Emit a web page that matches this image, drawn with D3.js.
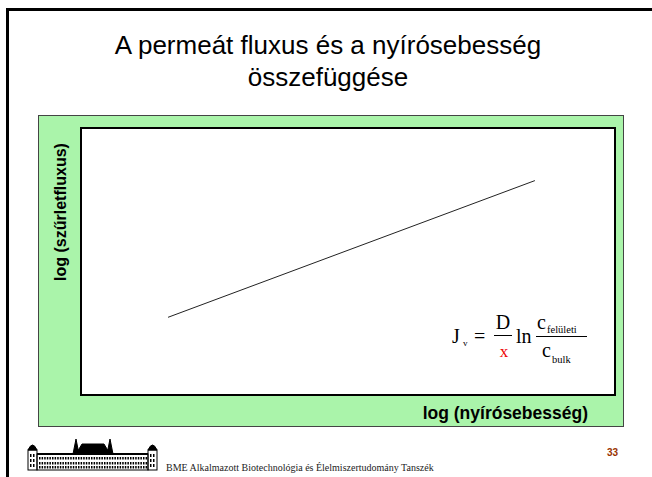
<!DOCTYPE html>
<html>
<head>
<meta charset="utf-8">
<script src="https://cdn.jsdelivr.net/npm/d3@7"></script>
<style>
  html, body { margin: 0; padding: 0; background: #fff; }
  svg { display: block; }
</style>
</head>
<body>
<svg id="slide" width="652" height="477"></svg>
<script>
// Schematic: log permeate flux vs log shear rate (straight line on log-log axes)
const titleLines = ["A permeát fluxus és a nyírósebesség", "összefüggése"];
const xAxisLabel = "log (nyírósebesség)";
const yAxisLabel = "log (szűrletfluxus)";
const logShear = [1.63, 8.5];   // log of shear rate, arbitrary units
const logFlux = [2.91, 8.03];   // log of permeate flux, arbitrary units
const xDomain = [0, 10];
const yDomain = [0, 10];
const footerText = "BME Alkalmazott Biotechnológia és Élelmiszertudomány Tanszék";
const pageNumber = "33";

const svg = d3.select("#slide");

// slide frame
svg.append("path")
  .attr("d", "M7.5,477 L7.5,9.5 L652,9.5")
  .attr("fill", "none").attr("stroke", "#000").attr("stroke-width", 3);

// title
const title = svg.append("text")
  .attr("text-anchor", "middle")
  .attr("font-family", "Liberation Sans, Arial, sans-serif")
  .attr("font-size", 26).attr("fill", "#000");
titleLines.forEach((t, i) => {
  title.append("tspan").attr("x", 328).attr("y", 54 + i * 32).text(t);
});

// green chart background
svg.append("rect")
  .attr("x", 38.5).attr("y", 115.5).attr("width", 585).attr("height", 311)
  .attr("fill", "#aaf4aa").attr("stroke", "#444").attr("stroke-width", 1);

// plot area
const plot = { left: 81, top: 128, right: 615, bottom: 395 };
svg.append("rect")
  .attr("x", plot.left).attr("y", plot.top)
  .attr("width", plot.right - plot.left).attr("height", plot.bottom - plot.top)
  .attr("fill", "#fff").attr("stroke", "#000").attr("stroke-width", 2);

const x = d3.scaleLinear().domain(xDomain).range([plot.left, plot.right]);
const y = d3.scaleLinear().domain(yDomain).range([plot.bottom, plot.top]);

const pts = logShear.map((v, i) => [v, logFlux[i]]);
svg.append("path")
  .datum(pts)
  .attr("d", d3.line().x(d => x(d[0])).y(d => y(d[1])))
  .attr("fill", "none").attr("stroke", "#222").attr("stroke-width", 1);

// axis titles
svg.append("text")
  .attr("transform", "translate(66,212) rotate(-90)")
  .attr("text-anchor", "middle")
  .attr("font-family", "Liberation Sans, Arial, sans-serif")
  .attr("font-weight", "bold").attr("font-size", 16)
  .text(yAxisLabel);

svg.append("text")
  .attr("x", 588).attr("y", 419)
  .attr("text-anchor", "end")
  .attr("font-family", "Liberation Sans, Arial, sans-serif")
  .attr("font-weight", "bold").attr("font-size", 17.5)
  .text(xAxisLabel);

// flux equation: J_v = (D / x) ln (c_felületi / c_bulk)
const eq = svg.append("g")
  .attr("font-family", "Liberation Serif, Times New Roman, serif")
  .attr("fill", "#000");
eq.append("text").attr("x", 452).attr("y", 343).attr("font-size", 20).text("J");
eq.append("text").attr("x", 463).attr("y", 346).attr("font-size", 9).text("v");
eq.append("text").attr("x", 474).attr("y", 343).attr("font-size", 20).text("=");
eq.append("text").attr("x", 503).attr("y", 329).attr("font-size", 20).attr("text-anchor", "middle").text("D");
eq.append("line").attr("x1", 494).attr("x2", 512).attr("y1", 335.5).attr("y2", 335.5).attr("stroke", "#000").attr("stroke-width", 1);
eq.append("text").attr("x", 504).attr("y", 357).attr("font-size", 17).attr("text-anchor", "middle").attr("fill", "#e00").text("x");
eq.append("text").attr("x", 516).attr("y", 343).attr("font-size", 20).text("ln");
eq.append("text").attr("x", 537).attr("y", 329).attr("font-size", 20).text("c");
eq.append("text").attr("x", 547).attr("y", 333).attr("font-size", 10.5).text("felületi");
eq.append("line").attr("x1", 536).attr("x2", 587).attr("y1", 336.5).attr("y2", 336.5).attr("stroke", "#000").attr("stroke-width", 1);
eq.append("text").attr("x", 542).attr("y", 357).attr("font-size", 20).text("c");
eq.append("text").attr("x", 552).attr("y", 363).attr("font-size", 10.5).text("bulk");

// footer: building emblem
const logo = svg.append("g").attr("fill", "none").attr("stroke", "#000").attr("stroke-width", 1);
const lx = 28, ly = 444;
// side towers with domes
[lx, lx + 120].forEach(tx => {
  const w = 9;
  logo.append("rect").attr("x", tx).attr("y", ly + 6).attr("width", w).attr("height", 20).attr("fill", "#fff");
  logo.append("path").attr("d", `M${tx},${ly + 6} Q${tx + w / 2},${ly - 4} ${tx + w},${ly + 6} Z`).attr("fill", "#000");
});
// wings
logo.append("rect").attr("x", lx + 9).attr("y", ly + 10).attr("width", 111).attr("height", 16);
logo.append("line").attr("x1", lx + 9).attr("x2", lx + 120).attr("y1", ly + 10).attr("y2", ly + 10).attr("stroke-width", 2);
// central block with roof and spires
logo.append("path").attr("d", `M${lx + 48},${ly + 10} L${lx + 54},${ly} L${lx + 76},${ly} L${lx + 82},${ly + 10} Z`).attr("fill", "#000");
logo.append("path").attr("d", `M${lx + 45},${ly + 10} L${lx + 48},${ly - 5} L${lx + 51},${ly + 10}`).attr("fill", "#000");
logo.append("path").attr("d", `M${lx + 79},${ly + 10} L${lx + 82},${ly - 5} L${lx + 85},${ly + 10}`).attr("fill", "#000");
// window rows
[ly + 13, ly + 18, ly + 22].forEach(ry => {
  for (let wx = lx + 11; wx < lx + 118; wx += 2.6) {
    logo.append("rect").attr("x", wx).attr("y", ry).attr("width", 1.5).attr("height", 2.5)
      .attr("fill", "#000").attr("stroke", "none");
  }
});
[lx + 2, lx + 5, lx + 122, lx + 125].forEach(wx => {
  [ly + 10, ly + 15, ly + 20].forEach(ry => {
    logo.append("rect").attr("x", wx).attr("y", ry).attr("width", 1.5).attr("height", 3)
      .attr("fill", "#000").attr("stroke", "none");
  });
});

svg.append("text")
  .attr("x", 166).attr("y", 471)
  .attr("font-family", "Liberation Serif, Times New Roman, serif")
  .attr("font-size", 10).attr("fill", "#222")
  .text(footerText);

svg.append("text")
  .attr("x", 618).attr("y", 456)
  .attr("text-anchor", "end")
  .attr("font-family", "Liberation Sans, Arial, sans-serif")
  .attr("font-size", 10).attr("font-weight", "bold").attr("fill", "#993300")
  .text(pageNumber);
</script>
</body>
</html>
